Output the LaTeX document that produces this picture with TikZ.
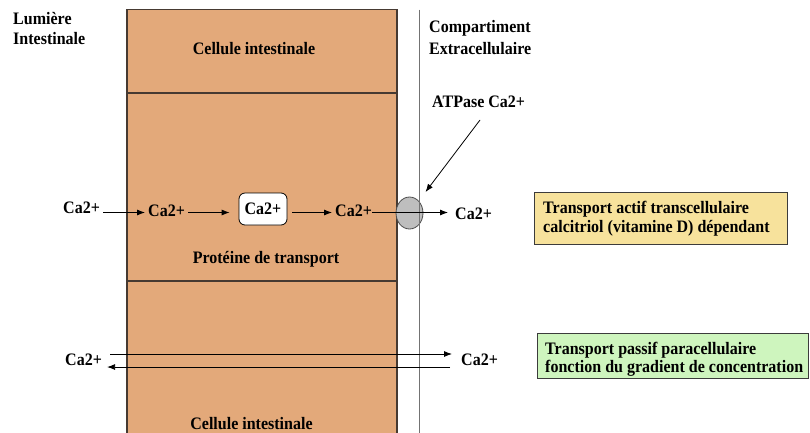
\documentclass[tikz,border=0pt]{standalone}
\usepackage{fontspec}
\setmainfont{Liberation Serif}[FakeStretch=0.915]
\usetikzlibrary{arrows.meta,calc,shapes.geometric}
\definecolor{cellfill}{RGB}{227,169,122}
\definecolor{celldraw}{RGB}{70,58,50}
\definecolor{yelbox}{RGB}{247,226,156}
\definecolor{grnbox}{RGB}{206,245,190}
\definecolor{pumpfill}{RGB}{190,190,190}
\definecolor{memb}{RGB}{115,115,115}
\definecolor{boxdraw}{RGB}{60,60,60}
\tikzset{
  lbl/.style={font=\fontsize{17.5}{19.5}\selectfont\bfseries, inner sep=0pt},
  ion/.style={font=\fontsize{17.5}{19.5}\selectfont\bfseries, inner xsep=3pt, inner ysep=0pt, anchor=base west},
  arr/.style={-{Latex[length=8pt,width=6pt]}, line width=0.8pt},
  infobox/.style={draw=boxdraw, line width=0.9pt, anchor=north west, inner sep=0pt},
}
\begin{document}
\begin{tikzpicture}[x=1pt,y=-1pt]
\useasboundingbox (0,0) rectangle (810,432);
% cells
\fill[cellfill] (127,9.5) rectangle (397,440);
\draw[celldraw, line width=1.2pt] (127,440) -- (127,9.5) -- (397,9.5) -- (397,440);
\draw[celldraw, line width=1.2pt] (127,93) -- (397,93);
\draw[celldraw, line width=1.2pt] (127,281) -- (397,281);
% pump
\node[ellipse, draw=black!70, fill=pumpfill, minimum width=27pt, minimum height=32pt, inner sep=0pt, line width=0.8pt] (pump) at (409.5,213) {};
% membrane line
\draw[memb, line width=1.4pt] (419.5,9.5) -- (419.5,440);
% labels
\node[lbl, anchor=north west, align=left, font=\fontsize{17.5}{20}\selectfont\bfseries] (lum) at (13,12) {Lumière\\Intestinale};
\node[lbl, anchor=north west, align=left, font=\fontsize{17.5}{22}\selectfont\bfseries] (comp) at (429,20) {Compartiment\\Extracellulaire};
\node[lbl, anchor=base] (cell1) at (254,54) {Cellule intestinale};
\node[lbl, anchor=base] (protlbl) at (266,263) {Protéine de transport};
\node[lbl, anchor=base] (cell3) at (251.5,429) {Cellule intestinale};
\node[lbl, anchor=base west] (atp) at (432,107) {ATPase Ca2+};
\coordinate (atpstart) at ($(atp.base west)+(48,13)$);
% row 1
\coordinate (row1) at (0,212.5);
\node[ion] (c1) at (60,213) {Ca2+};
\node[ion] (c2) at (145,216) {Ca2+};
\node[draw, rounded corners=6pt, fill=white, minimum width=48pt, minimum height=32pt, inner sep=0pt, line width=0.8pt, font=\fontsize{17.5}{19.5}\selectfont\bfseries] (prot) at (263,209) {Ca2+};
\node[ion] (c4) at (332,216.5) {Ca2+};
\node[ion] (c5) at (452,219.5) {Ca2+};
\draw[arr] (c1.east |- row1) -- (c2.west |- row1);
\draw[arr, shorten >=9pt] (c2.east |- row1) -- (prot.west |- row1);
\draw[arr, shorten <=5pt] (prot.east |- row1) -- (c4.west |- row1);
\draw[arr, shorten <=-3pt, shorten >=4pt] (c4.east |- row1) -- (c5.west |- row1);
\draw[arr] (atpstart) -- ($(pump.center)+(16,-21)$);
% row 2
\coordinate (row2a) at (0,354);
\coordinate (row2b) at (0,367);
\node[ion] (d1) at (62,365) {Ca2+};
\node[ion] (d2) at (458,365) {Ca2+};
\draw[arr, shorten <=5pt, shorten >=6pt] (d1.east |- row2a) -- (d2.west |- row2a);
\draw[arr, shorten <=8pt, shorten >=2pt] (d2.west |- row2b) -- (d1.east |- row2b);
% info boxes
\node[infobox, fill=yelbox, minimum width=253pt, minimum height=52pt] (actifbox) at (534,192) {};
\node[lbl, anchor=north west, align=left, font=\fontsize{17.5}{19}\selectfont\bfseries] (actif) at (543,201) {Transport actif transcellulaire\\calcitriol (vitamine D) dépendant};
\node[infobox, fill=grnbox, minimum width=271pt, minimum height=45pt] (passifbox) at (537,333) {};
\node[lbl, anchor=north west, align=left, font=\fontsize{17.5}{18}\selectfont\bfseries] (passif) at (545,342) {Transport passif paracellulaire\\fonction du gradient de concentration};
\end{tikzpicture}
\end{document}
